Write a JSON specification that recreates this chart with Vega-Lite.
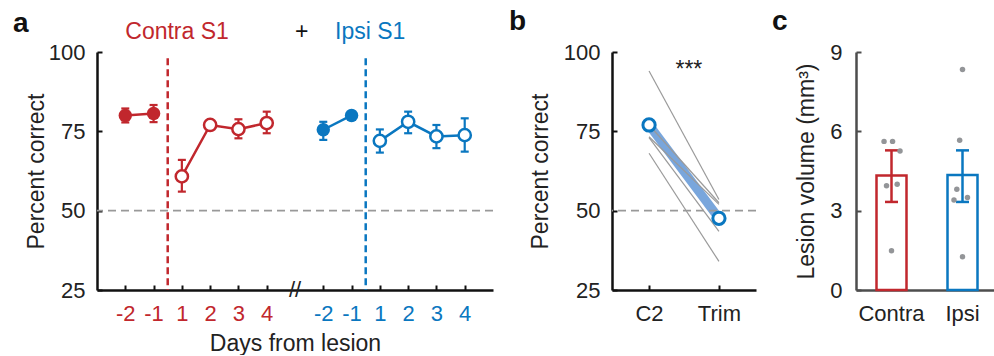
{
  "$schema": "https://vega.github.io/schema/vega-lite/v6.json",
  "background": "white",
  "padding": {"left": 13, "top": 8, "right": 0, "bottom": 0},
  "spacing": 15,
  "config": {
    "view": {"stroke": null},
    "axis": {
      "grid": false,
      "domainColor": "#111",
      "domainWidth": 2.5,
      "tickColor": "#111",
      "tickWidth": 2,
      "tickSize": -5,
      "labelFont": "Liberation Sans",
      "labelFontSize": 22,
      "labelColor": "#222",
      "labelPadding": 17,
      "labelFlush": false,
      "labelOverlap": false,
      "titleFont": "Liberation Sans",
      "titleFontSize": 23,
      "titleFontWeight": "normal",
      "titleColor": "#222"
    },
    "title": {
      "font": "Liberation Sans",
      "fontSize": 28,
      "fontWeight": "bold",
      "color": "#111",
      "anchor": "start",
      "frame": "group",
      "baseline": "top"
    }
  },
  "hconcat": [
    {
      "width": 396,
      "height": 238,
      "title": {"text": "a", "dx": -84, "offset": -17},
      "data": {"values": [
        {"grp": "Contra", "seg": "Contra pre", "phase": "pre", "day": -2, "x": 0, "mean": 80.0, "lo": 77.8, "hi": 82.2},
        {"grp": "Contra", "seg": "Contra pre", "phase": "pre", "day": -1, "x": 1, "mean": 80.6, "lo": 77.9, "hi": 83.3},
        {"grp": "Contra", "seg": "Contra post", "phase": "post", "day": 1, "x": 2, "mean": 60.8, "lo": 56.0, "hi": 66.0},
        {"grp": "Contra", "seg": "Contra post", "phase": "post", "day": 2, "x": 3, "mean": 77.0, "lo": 75.6, "hi": 78.4},
        {"grp": "Contra", "seg": "Contra post", "phase": "post", "day": 3, "x": 4, "mean": 75.7, "lo": 72.8, "hi": 78.8},
        {"grp": "Contra", "seg": "Contra post", "phase": "post", "day": 4, "x": 5, "mean": 77.6, "lo": 74.4, "hi": 81.2},
        {"grp": "Ipsi", "seg": "Ipsi pre", "phase": "pre", "day": -2, "x": 7, "mean": 75.5, "lo": 72.3, "hi": 78.0},
        {"grp": "Ipsi", "seg": "Ipsi pre", "phase": "pre", "day": -1, "x": 8, "mean": 80.0, "lo": 78.8, "hi": 81.2},
        {"grp": "Ipsi", "seg": "Ipsi post", "phase": "post", "day": 1, "x": 9, "mean": 72.0, "lo": 68.3, "hi": 75.6},
        {"grp": "Ipsi", "seg": "Ipsi post", "phase": "post", "day": 2, "x": 10, "mean": 78.0, "lo": 74.4, "hi": 81.2},
        {"grp": "Ipsi", "seg": "Ipsi post", "phase": "post", "day": 3, "x": 11, "mean": 73.4, "lo": 69.7, "hi": 77.0},
        {"grp": "Ipsi", "seg": "Ipsi post", "phase": "post", "day": 4, "x": 12, "mean": 73.8, "lo": 68.6, "hi": 79.1}
      ]},
      "layer": [
        {
          "data": {"values": [
            {"grp": "Contra", "x": 1.5, "top": 98, "bottom": 25},
            {"grp": "Ipsi", "x": 8.5, "top": 98, "bottom": 25}
          ]},
          "mark": {"type": "rule", "strokeWidth": 2.5, "strokeDash": [7, 4]},
          "encoding": {
            "x": {
              "field": "x", "type": "quantitative",
              "scale": {"domain": [-1, 13], "nice": false, "zero": false},
              "axis": {
                "title": "Days from lesion",
                "values": [0, 1, 2, 3, 4, 5, 7, 8, 9, 10, 11, 12],
                "tickCount": 30,
                "labelExpr": "datum.value < 6 ? (datum.value < 2 ? datum.value - 2 : datum.value - 1) : (datum.value < 9 ? datum.value - 9 : datum.value - 8)",
                "labelColor": {"condition": {"test": "datum.value < 6", "value": "#c1272d"}, "value": "#0a77c0"},
                "labelOverlap": false,
                "labelSeparation": 0,
                "labelPadding": 18,
                "titlePadding": 8
              }
            },
            "y": {
              "field": "top", "type": "quantitative",
              "scale": {"domain": [25, 100], "nice": false, "zero": false},
              "axis": {"title": "Percent correct", "values": [25, 50, 75, 100], "labelOverlap": false, "titlePadding": 0}
            },
            "y2": {"field": "bottom"},
            "color": {"field": "grp", "type": "nominal", "scale": {"domain": ["Contra", "Ipsi", "plus"], "range": ["#c1272d", "#0a77c0", "#111111"]}, "legend": null}
          }
        },
        {
          "data": {"values": [{"chance": 50}]},
          "mark": {"type": "rule", "color": "#999999", "strokeWidth": 1.8, "strokeDash": [8, 5]},
          "encoding": {
            "y": {"field": "chance", "type": "quantitative", "scale": {"domain": [25, 100], "nice": false, "zero": false}}
          }
        },
        {
          "mark": {"type": "rule", "strokeWidth": 2.2},
          "encoding": {
            "x": {"field": "x", "type": "quantitative", "scale": {"domain": [-1, 13], "nice": false, "zero": false}},
            "y": {"field": "lo", "type": "quantitative", "scale": {"domain": [25, 100], "nice": false, "zero": false}},
            "y2": {"field": "hi"},
            "color": {"field": "grp", "type": "nominal", "scale": {"domain": ["Contra", "Ipsi", "plus"], "range": ["#c1272d", "#0a77c0", "#111111"]}, "legend": null}
          }
        },
        {
          "mark": {"type": "tick", "orient": "horizontal", "size": 8, "thickness": 2.2, "opacity": 1},
          "encoding": {
            "x": {"field": "x", "type": "quantitative", "scale": {"domain": [-1, 13], "nice": false, "zero": false}},
            "y": {"field": "lo", "type": "quantitative", "scale": {"domain": [25, 100], "nice": false, "zero": false}},
            "color": {"field": "grp", "type": "nominal", "scale": {"domain": ["Contra", "Ipsi", "plus"], "range": ["#c1272d", "#0a77c0", "#111111"]}, "legend": null}
          }
        },
        {
          "mark": {"type": "tick", "orient": "horizontal", "size": 8, "thickness": 2.2, "opacity": 1},
          "encoding": {
            "x": {"field": "x", "type": "quantitative", "scale": {"domain": [-1, 13], "nice": false, "zero": false}},
            "y": {"field": "hi", "type": "quantitative", "scale": {"domain": [25, 100], "nice": false, "zero": false}},
            "color": {"field": "grp", "type": "nominal", "scale": {"domain": ["Contra", "Ipsi", "plus"], "range": ["#c1272d", "#0a77c0", "#111111"]}, "legend": null}
          }
        },
        {
          "mark": {"type": "line", "strokeWidth": 2.5},
          "encoding": {
            "x": {"field": "x", "type": "quantitative", "scale": {"domain": [-1, 13], "nice": false, "zero": false}},
            "y": {"field": "mean", "type": "quantitative", "scale": {"domain": [25, 100], "nice": false, "zero": false}},
            "detail": {"field": "seg"},
            "color": {"field": "grp", "type": "nominal", "scale": {"domain": ["Contra", "Ipsi", "plus"], "range": ["#c1272d", "#0a77c0", "#111111"]}, "legend": null}
          }
        },
        {
          "transform": [{"filter": "datum.phase == 'pre'"}],
          "mark": {"type": "point", "shape": "circle", "filled": true, "size": 180, "opacity": 1},
          "encoding": {
            "x": {"field": "x", "type": "quantitative", "scale": {"domain": [-1, 13], "nice": false, "zero": false}},
            "y": {"field": "mean", "type": "quantitative", "scale": {"domain": [25, 100], "nice": false, "zero": false}},
            "color": {"field": "grp", "type": "nominal", "scale": {"domain": ["Contra", "Ipsi", "plus"], "range": ["#c1272d", "#0a77c0", "#111111"]}, "legend": null}
          }
        },
        {
          "transform": [{"filter": "datum.phase == 'post'"}],
          "mark": {"type": "point", "shape": "circle", "filled": false, "fill": "white", "size": 150, "strokeWidth": 2.5, "opacity": 1},
          "encoding": {
            "x": {"field": "x", "type": "quantitative", "scale": {"domain": [-1, 13], "nice": false, "zero": false}},
            "y": {"field": "mean", "type": "quantitative", "scale": {"domain": [25, 100], "nice": false, "zero": false}},
            "color": {"field": "grp", "type": "nominal", "scale": {"domain": ["Contra", "Ipsi", "plus"], "range": ["#c1272d", "#0a77c0", "#111111"]}, "legend": null}
          }
        },
        {
          "data": {"values": [
            {"label": "Contra S1", "grp": "Contra", "x": 1.83, "y": 104.1},
            {"label": "+", "grp": "plus", "x": 6.24, "y": 104.1},
            {"label": "Ipsi S1", "grp": "Ipsi", "x": 8.66, "y": 104.1}
          ]},
          "mark": {"type": "text", "font": "Liberation Sans", "fontSize": 23, "baseline": "alphabetic", "align": "center"},
          "encoding": {
            "x": {"field": "x", "type": "quantitative", "scale": {"domain": [-1, 13], "nice": false, "zero": false}},
            "y": {"field": "y", "type": "quantitative", "scale": {"domain": [25, 100], "nice": false, "zero": false}},
            "text": {"field": "label"},
            "color": {"field": "grp", "type": "nominal", "scale": {"domain": ["Contra", "Ipsi", "plus"], "range": ["#c1272d", "#0a77c0", "#111111"]}, "legend": null}
          }
        },
        {
          "data": {"values": [{"label": "//", "x": 6.0, "y": 25}]},
          "mark": {"type": "text", "font": "Liberation Sans", "fontSize": 22, "baseline": "middle", "align": "center", "color": "#222"},
          "encoding": {
            "x": {"field": "x", "type": "quantitative", "scale": {"domain": [-1, 13], "nice": false, "zero": false}},
            "y": {"field": "y", "type": "quantitative", "scale": {"domain": [25, 100], "nice": false, "zero": false}},
            "text": {"field": "label"}
          }
        }
      ]
    },
    {
      "width": 144,
      "height": 238,
      "title": {"text": "b", "dx": -103, "offset": 5},
      "layer": [
        {
          "data": {"values": [
            {"cond": "C2", "pos": 0, "pct": 77.0},
            {"cond": "Trim", "pos": 1, "pct": 47.6}
          ]},
          "mark": {"type": "line", "strokeWidth": 9, "color": "#6a9cd8", "opacity": 0.9},
          "encoding": {
            "x": {"field": "pos", "type": "quantitative", "scale": {"domain": [-0.53, 1.53], "nice": false, "zero": false},
              "axis": {"title": null, "values": [0, 1], "labelExpr": "datum.value == 0 ? 'C2' : 'Trim'", "labelOverlap": false, "labelPadding": 18}},
            "y": {"field": "pct", "type": "quantitative", "scale": {"domain": [25, 100], "nice": false, "zero": false},
              "axis": {"title": "Percent correct", "values": [25, 50, 75, 100], "labelOverlap": false, "titlePadding": 11}}
          }
        },
        {
          "data": {"values": [{"chance": 50}]},
          "mark": {"type": "rule", "color": "#999999", "strokeWidth": 1.8, "strokeDash": [8, 5]},
          "encoding": {
            "y": {"field": "chance", "type": "quantitative", "scale": {"domain": [25, 100], "nice": false, "zero": false}}
          }
        },
        {
          "data": {"values": [
            {"subj": "m1", "cond": "C2", "pos": 0, "pct": 94.0},
            {"subj": "m1", "cond": "Trim", "pos": 1, "pct": 53.5},
            {"subj": "m2", "cond": "C2", "pos": 0, "pct": 77.0},
            {"subj": "m2", "cond": "Trim", "pos": 1, "pct": 52.5},
            {"subj": "m3", "cond": "C2", "pos": 0, "pct": 73.3},
            {"subj": "m3", "cond": "Trim", "pos": 1, "pct": 52.0},
            {"subj": "m4", "cond": "C2", "pos": 0, "pct": 73.0},
            {"subj": "m4", "cond": "Trim", "pos": 1, "pct": 43.5},
            {"subj": "m5", "cond": "C2", "pos": 0, "pct": 68.1},
            {"subj": "m5", "cond": "Trim", "pos": 1, "pct": 34.0}
          ]},
          "mark": {"type": "line", "strokeWidth": 1.2, "color": "#9a9a9a"},
          "encoding": {
            "x": {"field": "pos", "type": "quantitative", "scale": {"domain": [-0.53, 1.53], "nice": false, "zero": false}},
            "y": {"field": "pct", "type": "quantitative", "scale": {"domain": [25, 100], "nice": false, "zero": false}},
            "detail": {"field": "subj"}
          }
        },
        {
          "data": {"values": [
            {"cond": "C2", "pos": 0, "pct": 77.0},
            {"cond": "Trim", "pos": 1, "pct": 47.6}
          ]},
          "mark": {"type": "point", "shape": "circle", "filled": false, "fill": "white", "size": 150, "strokeWidth": 3, "color": "#0a77c0", "opacity": 1},
          "encoding": {
            "x": {"field": "pos", "type": "quantitative", "scale": {"domain": [-0.53, 1.53], "nice": false, "zero": false}},
            "y": {"field": "pct", "type": "quantitative", "scale": {"domain": [25, 100], "nice": false, "zero": false}}
          }
        },
        {
          "data": {"values": [{"label": "***", "pos": 0.57, "pct": 92.1}]},
          "mark": {"type": "text", "font": "Liberation Sans", "fontSize": 23, "baseline": "alphabetic", "align": "center", "color": "#222"},
          "encoding": {
            "x": {"field": "pos", "type": "quantitative", "scale": {"domain": [-0.53, 1.53], "nice": false, "zero": false}},
            "y": {"field": "pct", "type": "quantitative", "scale": {"domain": [25, 100], "nice": false, "zero": false}},
            "text": {"field": "label"}
          }
        }
      ]
    },
    {
      "width": 142,
      "height": 238,
      "title": {"text": "c", "dx": -84, "offset": 5},
      "layer": [
        {
          "data": {"values": [
            {"side": "Contra", "mean": 4.33, "lo": 3.33, "hi": 5.28},
            {"side": "Ipsi", "mean": 4.35, "lo": 3.33, "hi": 5.28}
          ]},
          "layer": [
            {
              "mark": {"type": "bar", "fill": "white", "strokeWidth": 2.5, "size": 30},
              "encoding": {
                "x": {"field": "side", "type": "nominal", "sort": null,
                  "scale": {"domain": ["Contra", "Ipsi"], "paddingInner": 0, "paddingOuter": 0},
                  "axis": {"title": null, "labelAngle": 0, "domainColor": "#4d4d4d", "tickColor": "#4d4d4d", "labelPadding": 18}},
                "y": {"field": "mean", "type": "quantitative", "scale": {"domain": [0, 9], "nice": false},
                  "axis": {"title": "Lesion volume (mm³)", "values": [0, 3, 6, 9], "labelOverlap": false, "domainColor": "#4d4d4d", "tickColor": "#4d4d4d", "labelPadding": 19, "titlePadding": 11}},
                "stroke": {"field": "side", "type": "nominal", "scale": {"domain": ["Contra", "Ipsi"], "range": ["#c1272d", "#0a77c0"]}, "legend": null}
              }
            },
            {
              "mark": {"type": "rule", "strokeWidth": 2.5},
              "encoding": {
                "x": {"field": "side", "type": "nominal", "sort": null, "scale": {"domain": ["Contra", "Ipsi"], "paddingInner": 0, "paddingOuter": 0}},
                "y": {"field": "lo", "type": "quantitative", "scale": {"domain": [0, 9], "nice": false}},
                "y2": {"field": "hi"},
                "color": {"field": "side", "type": "nominal", "scale": {"domain": ["Contra", "Ipsi"], "range": ["#c1272d", "#0a77c0"]}, "legend": null}
              }
            },
            {
              "mark": {"type": "tick", "orient": "horizontal", "size": 13, "thickness": 2.5, "opacity": 1},
              "encoding": {
                "x": {"field": "side", "type": "nominal", "sort": null, "scale": {"domain": ["Contra", "Ipsi"], "paddingInner": 0, "paddingOuter": 0}},
                "y": {"field": "lo", "type": "quantitative", "scale": {"domain": [0, 9], "nice": false}},
                "color": {"field": "side", "type": "nominal", "scale": {"domain": ["Contra", "Ipsi"], "range": ["#c1272d", "#0a77c0"]}, "legend": null}
              }
            },
            {
              "mark": {"type": "tick", "orient": "horizontal", "size": 13, "thickness": 2.5, "opacity": 1},
              "encoding": {
                "x": {"field": "side", "type": "nominal", "sort": null, "scale": {"domain": ["Contra", "Ipsi"], "paddingInner": 0, "paddingOuter": 0}},
                "y": {"field": "hi", "type": "quantitative", "scale": {"domain": [0, 9], "nice": false}},
                "color": {"field": "side", "type": "nominal", "scale": {"domain": ["Contra", "Ipsi"], "range": ["#c1272d", "#0a77c0"]}, "legend": null}
              }
            }
          ]
        },
        {
          "data": {"values": [
            {"side": "Contra", "vol": 5.62, "jit": -0.21},
            {"side": "Contra", "vol": 5.62, "jit": 0.03},
            {"side": "Contra", "vol": 5.26, "jit": 0.24},
            {"side": "Contra", "vol": 3.94, "jit": -0.14},
            {"side": "Contra", "vol": 4.0, "jit": 0.16},
            {"side": "Contra", "vol": 1.48, "jit": 0.0},
            {"side": "Ipsi", "vol": 8.34, "jit": 0.0},
            {"side": "Ipsi", "vol": 5.66, "jit": -0.08},
            {"side": "Ipsi", "vol": 3.81, "jit": -0.16},
            {"side": "Ipsi", "vol": 3.4, "jit": -0.24},
            {"side": "Ipsi", "vol": 3.5, "jit": 0.14},
            {"side": "Ipsi", "vol": 1.26, "jit": 0.0}
          ]},
          "mark": {"type": "point", "shape": "circle", "filled": true, "size": 30, "color": "#939598", "opacity": 1},
          "encoding": {
            "x": {"field": "side", "type": "nominal", "sort": null, "scale": {"domain": ["Contra", "Ipsi"], "paddingInner": 0, "paddingOuter": 0}},
            "xOffset": {"field": "jit", "type": "quantitative", "scale": {"domain": [-1, 1]}},
            "y": {"field": "vol", "type": "quantitative", "scale": {"domain": [0, 9], "nice": false}}
          }
        }
      ]
    }
  ]
}
